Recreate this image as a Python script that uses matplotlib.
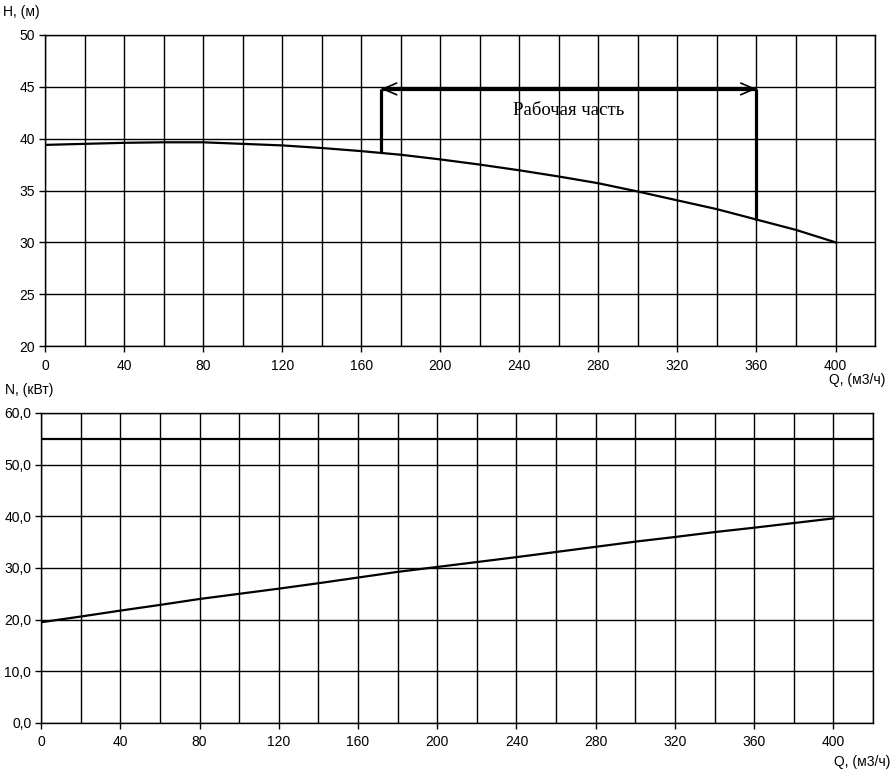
import numpy as np
import matplotlib
matplotlib.use('Agg')
import matplotlib.pyplot as plt
from matplotlib.ticker import MultipleLocator, FuncFormatter

plt.rcParams['font.family'] = ['Liberation Sans', 'DejaVu Sans']

# Напорная характеристика H(Q)
q = [0, 20, 40, 60, 80, 100, 120, 140, 160, 180, 200, 220, 240, 260, 280, 300, 320, 340, 360, 380, 400]
h = [39.4, 39.5, 39.6, 39.65, 39.65, 39.5, 39.35, 39.1, 38.8, 38.45, 38.0, 37.5, 36.95, 36.35, 35.7,
     34.9, 34.05, 33.2, 32.2, 31.2, 30.0]
# Мощность N(Q)
n = [19.5, 20.6, 21.75, 22.85, 24.0, 25.0, 26.0, 27.05, 28.15, 29.25, 30.2, 31.15, 32.1, 33.1, 34.1,
     35.1, 36.0, 36.95, 37.8, 38.7, 39.6]
n_max = 55.0

# рабочая часть
q_work = [170, 360]
h_arrow = 44.8
work_label = 'Рабочая часть'

fig = plt.figure(figsize=(8.96, 7.76), dpi=100)
ax1 = fig.add_axes([0.0502, 0.5541, 0.9264, 0.4008])
ax2 = fig.add_axes([0.0458, 0.0683, 0.9286, 0.3995])


def style(ax, ymin, ymax, ystep, fmt):
    ax.set_xlim(0, 420)
    ax.set_ylim(ymin, ymax)
    ax.xaxis.set_major_locator(MultipleLocator(40))
    ax.xaxis.set_minor_locator(MultipleLocator(20))
    ax.yaxis.set_major_locator(MultipleLocator(ystep))
    ax.grid(True, which='both', axis='x', color='black', lw=1)
    ax.grid(True, which='major', axis='y', color='black', lw=1)
    ax.tick_params(which='major', length=4, width=1, labelsize=10, color='black')
    ax.tick_params(which='minor', length=0)
    ax.tick_params(axis='x', pad=5)
    ax.tick_params(axis='y', pad=3)
    ax.yaxis.set_major_formatter(FuncFormatter(fmt))
    ax.set_axisbelow(True)
    for s in ax.spines.values():
        s.set_color('black')
        s.set_linewidth(1)


style(ax1, 20, 50, 5, lambda v, p: '%d' % v)
style(ax2, 0, 60, 10, lambda v, p: ('%.1f' % v).replace('.', ','))
ax1.set_xticks([x for x in range(0, 401, 40)])
ax2.set_xticks([x for x in range(0, 401, 40)])

ax1.plot(q, h, color='black', lw=1.6)

h_ends = np.interp(q_work, q, h)
for qw, he in zip(q_work, h_ends):
    ax1.plot([qw, qw], [he, h_arrow], color='black', lw=2.3, solid_capstyle='butt')
ax1.plot(q_work, [h_arrow, h_arrow], color='black', lw=2.3, solid_capstyle='butt')
head = dict(arrowstyle='->,head_length=0.7,head_width=0.3', color='black', lw=1.2,
            shrinkA=0, shrinkB=0, mutation_scale=14)
ax1.annotate('', xy=(q_work[0], h_arrow), xytext=(q_work[0] + 10, h_arrow), arrowprops=head)
ax1.annotate('', xy=(q_work[1], h_arrow), xytext=(q_work[1] - 10, h_arrow), arrowprops=head)
ax1.text(265, 42.75, work_label, family=['Liberation Serif', 'DejaVu Serif'],
         fontsize=13.5, ha='center', va='center')

ax2.plot(q, n, color='black', lw=1.6)
ax2.axhline(n_max, color='black', lw=1.6)

fig.text(3 / 896, 1 - 12 / 776, 'H, (м)', fontsize=10, va='center', ha='left')
fig.text(885 / 896, 1 - 380 / 776, 'Q, (м3/ч)', fontsize=10, va='center', ha='right')
fig.text(5 / 896, 1 - 390 / 776, 'N, (кВт)', fontsize=10, va='center', ha='left')
fig.text(890 / 896, 1 - 762 / 776, 'Q, (м3/ч)', fontsize=10, va='center', ha='right')

fig.savefig('out.png', dpi=100)
